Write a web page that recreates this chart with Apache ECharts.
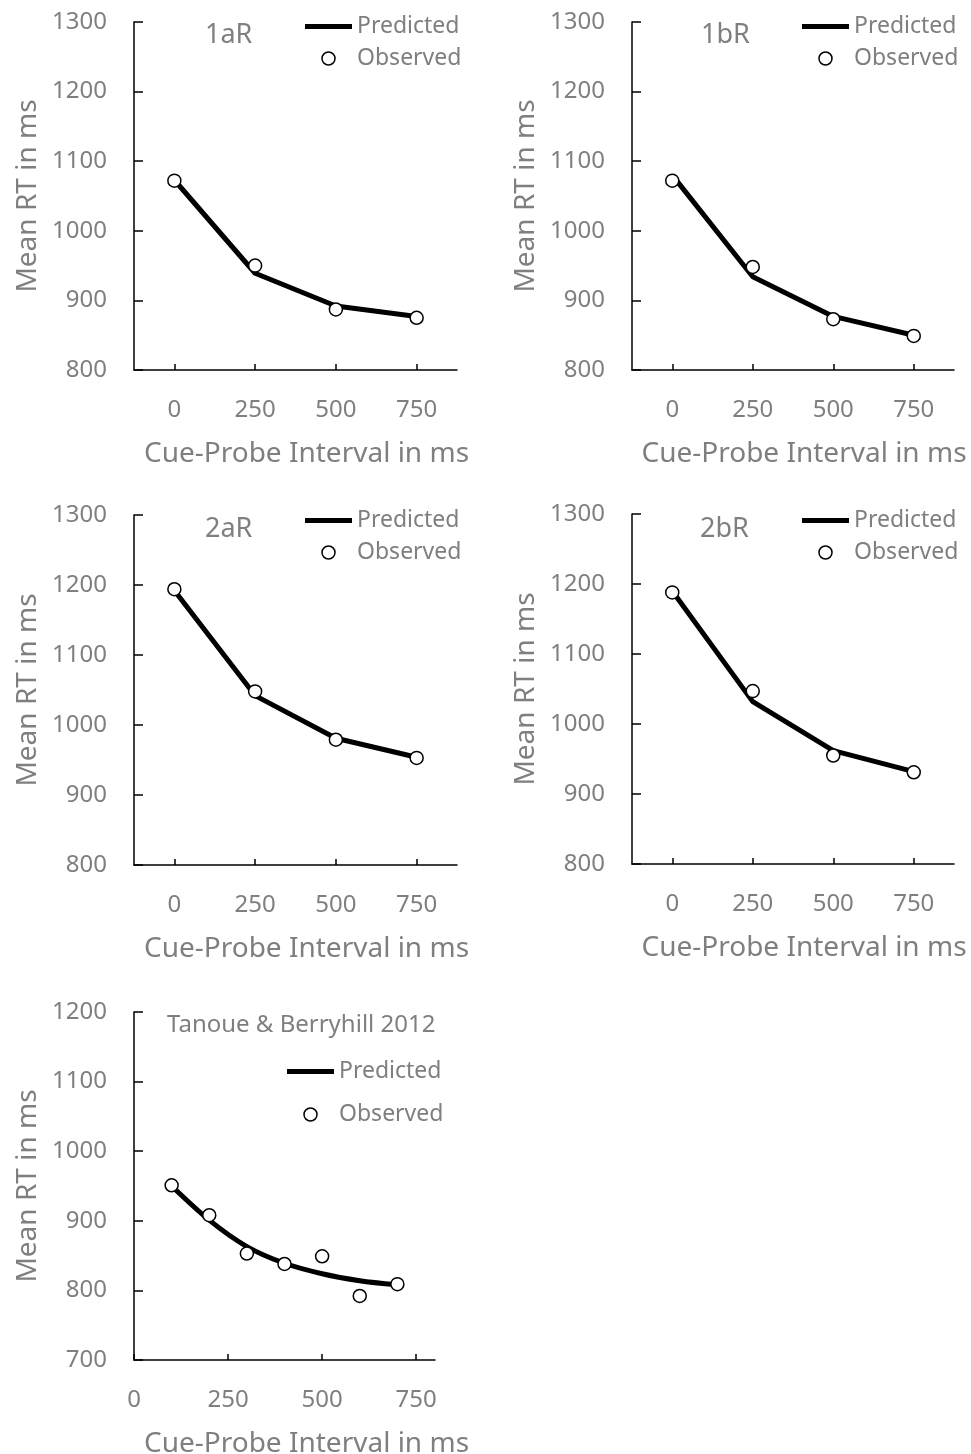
<!DOCTYPE html>
<html>
<head>
<meta charset="utf-8">
<script src="https://cdn.jsdelivr.net/npm/echarts@6/dist/echarts.min.js"></script>
<style>
html,body{margin:0;padding:0;background:#fff;}
#c{width:971px;height:1454px;}
</style>
</head>
<body>
<div id="c"></div>
<script>
// ---- data ----
const intervals = ['0', '250', '500', '750'];
const panelNames = ['1aR', '1bR', '2aR', '2bR'];
const pred1a = [1073, 939, 892, 877];
const obs1a  = [1072, 950, 887, 875];
const pred1b = [1080, 934, 877, 850];
const obs1b  = [1072, 948, 873, 849];
const pred2a = [1192, 1042, 981, 954];
const obs2a  = [1194, 1048, 979, 953];
const pred2b = [1190, 1032, 962, 932];
const obs2b  = [1188, 1047, 955, 931];
const rtTicks = [800, 900, 1000, 1100, 1200, 1300];

const tbTitle = 'Tanoue & Berryhill 2012';
const tbX    = [100, 200, 300, 400, 500, 600, 700];
const tbPred = [950, 901, 863, 839, 824, 814, 808];
const tbObs  = [951, 908, 853, 838, 849, 792, 809];
const tbXTicks = [0, 250, 500, 750];
const tbYTicks = [700, 800, 900, 1000, 1100, 1200];

const xTitle = 'Cue-Probe Interval in ms';
const yTitle = 'Mean RT in ms';
const predName = 'Predicted';
const obsName = 'Observed';

// ---- styling ----
const FONT = 'Noto Sans';
const GRAY = '#7f7f7f';
const AX = {color: '#000', width: 1.5};
const LINE_ICON = 'path://M0,0H47V5H0Z';

const grids = [
  {left: 134, top: 22, width: 323, height: 348},
  {left: 632, top: 22, width: 322, height: 348},
  {left: 134, top: 515, width: 323, height: 350},
  {left: 632, top: 514, width: 322, height: 350},
  {left: 134, top: 1012, width: 301, height: 348}
];
const panelPred = [pred1a, pred1b, pred2a, pred2b];
const panelObs = [obs1a, obs1b, obs2a, obs2b];
const titlePos = [[205, 22], [701, 22], [205, 516], [700, 516]];
const legendPos = [[305, 15], [802, 15], [305, 509], [802, 509]];

const xAxes = [], yAxes = [], series = [], titles = [], legends = [];

function yAxis(i, min, max) {
  return {
    type: 'value', gridIndex: i, min: min, max: max, interval: 100,
    axisLine: {show: true, lineStyle: AX},
    axisTick: {show: true, inside: true, length: 9, lineStyle: AX},
    axisLabel: {color: GRAY, fontSize: 24, fontFamily: FONT, margin: 27, formatter: v => String(v)},
    splitLine: {show: false},
    name: yTitle, nameLocation: 'middle', nameGap: 92,
    nameTextStyle: {color: GRAY, fontSize: 28, fontFamily: FONT}
  };
}

function legendData() {
  return [
    {name: predName, icon: LINE_ICON, itemStyle: {color: '#000', borderWidth: 0}},
    {name: obsName, icon: 'circle', itemStyle: {color: '#fff', borderColor: '#000', borderWidth: 1.5}}
  ];
}

for (let i = 0; i < 4; i++) {
  xAxes.push({
    type: 'category', gridIndex: i, data: intervals, boundaryGap: true,
    axisLine: {lineStyle: AX},
    axisTick: {show: true, alignWithLabel: true, inside: true, length: 6, lineStyle: AX},
    axisLabel: {color: GRAY, fontSize: 24, fontFamily: FONT, margin: 28},
    name: xTitle, nameLocation: 'middle', nameGap: 70,
    nameTextStyle: {color: GRAY, fontSize: 28, fontFamily: FONT, padding: [0, 0, 0, 22]}
  });
  yAxes.push(yAxis(i, 800, 1300));
  series.push({
    name: predName, type: 'line', xAxisIndex: i, yAxisIndex: i,
    data: panelPred[i], symbol: 'none', lineStyle: {color: '#000', width: 5},
    itemStyle: {color: '#000'}, z: 2
  });
  series.push({
    name: obsName, type: 'scatter', xAxisIndex: i, yAxisIndex: i,
    data: panelObs[i], symbol: 'circle', symbolSize: 13,
    itemStyle: {color: '#fff', borderColor: '#000', borderWidth: 1.5, opacity: 1}, z: 3
  });
  titles.push({
    text: panelNames[i], left: titlePos[i][0], top: titlePos[i][1],
    textStyle: {color: GRAY, fontSize: 27, fontWeight: 'normal', fontFamily: FONT}, padding: 0
  });
  legends.push({
    data: legendData(), orient: 'vertical', left: legendPos[i][0], top: legendPos[i][1],
    itemWidth: 47, itemHeight: 13, itemGap: 9, padding: 0, selectedMode: false,
    textStyle: {color: GRAY, fontSize: 23, fontFamily: FONT}
  });
}

// bottom panel
xAxes.push({
  type: 'value', gridIndex: 4, min: 0, max: 800,
  axisLine: {lineStyle: AX},
  axisTick: {show: true, inside: true, length: 6, lineStyle: AX, customValues: tbXTicks},
  axisLabel: {color: GRAY, fontSize: 24, fontFamily: FONT, margin: 28, customValues: tbXTicks},
  splitLine: {show: false},
  name: xTitle, nameLocation: 'middle', nameGap: 70,
  nameTextStyle: {color: GRAY, fontSize: 28, fontFamily: FONT, padding: [0, 0, 0, 44]}
});
yAxes.push(yAxis(4, 700, 1200));
series.push({
  name: predName, type: 'line', xAxisIndex: 4, yAxisIndex: 4, smooth: 0.3,
  data: tbX.map((x, k) => [x, tbPred[k]]), symbol: 'none',
  lineStyle: {color: '#000', width: 5}, itemStyle: {color: '#000'}, z: 2
});
series.push({
  name: obsName, type: 'scatter', xAxisIndex: 4, yAxisIndex: 4,
  data: tbX.map((x, k) => [x, tbObs[k]]), symbol: 'circle', symbolSize: 13,
  itemStyle: {color: '#fff', borderColor: '#000', borderWidth: 1.5, opacity: 1}, z: 3
});
titles.push({
  text: tbTitle, left: 167, top: 1013,
  textStyle: {color: GRAY, fontSize: 24, fontWeight: 'normal', fontFamily: FONT}, padding: 0
});
legends.push({
  data: legendData(), orient: 'vertical', left: 287, top: 1060,
  itemWidth: 47, itemHeight: 13, itemGap: 20, padding: 0, selectedMode: false,
  textStyle: {color: GRAY, fontSize: 23, fontFamily: FONT}
});

const chart = echarts.init(document.getElementById('c'), null, {renderer: 'canvas'});
chart.setOption({
  animation: false,
  backgroundColor: '#fff',
  textStyle: {fontFamily: FONT},
  grid: grids.map(g => Object.assign({containLabel: false, outerBoundsMode: 'none'}, g)),
  title: titles,
  legend: legends,
  xAxis: xAxes,
  yAxis: yAxes,
  series: series
});
</script>
</body>
</html>
